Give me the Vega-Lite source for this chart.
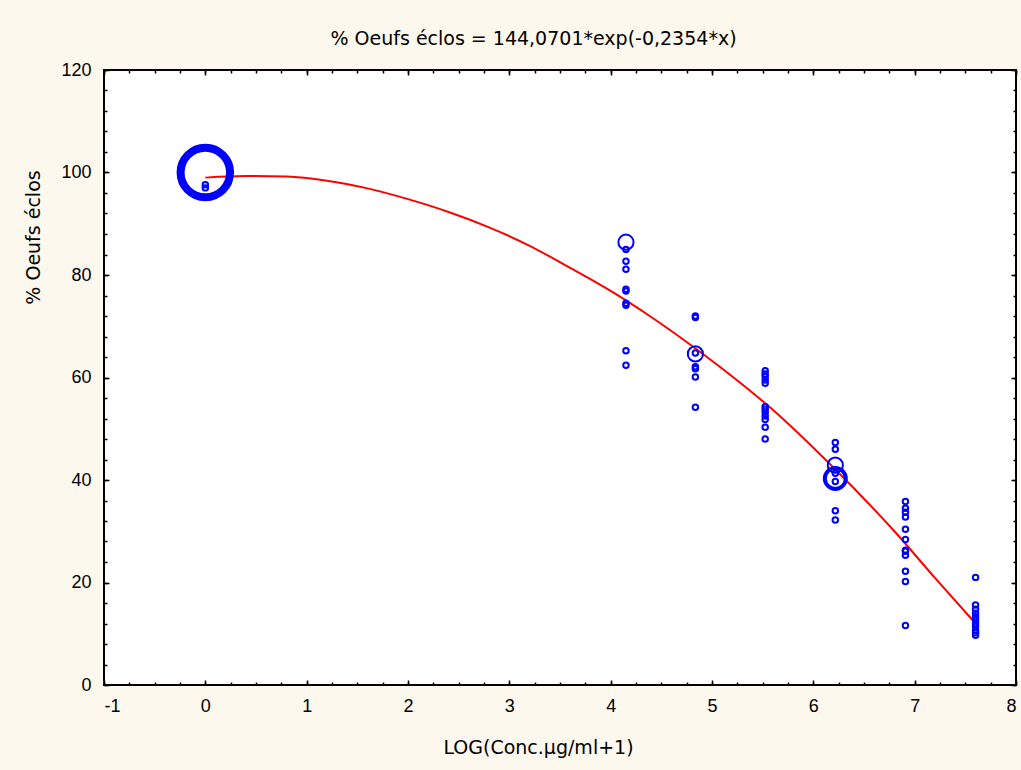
{
  "$schema": "https://vega.github.io/schema/vega-lite/v6.json",
  "width": 912,
  "height": 615,
  "autosize": {"type": "none"},
  "padding": {"left": 104, "top": 70, "right": 5, "bottom": 85},
  "background": "#FDF8EE",
  "config": {
    "view": {"stroke": "black", "strokeWidth": 2, "fill": "white"},
    "axis": {
      "labelFont": "Liberation Sans", "titleFont": "DejaVu Sans",
      "labelFontSize": 18, "titleFontSize": 19, "titleFontWeight": "normal",
      "labelColor": "black", "titleColor": "black", "tickColor": "black",
      "tickWidth": 1.5, "domain": false, "grid": false
    }
  },
  "datasets": {
    "pts": [
      {"x": 0, "y": 100, "n": 10},
      {"x": 0, "y": 97.6, "n": 1},
      {"x": 0, "y": 97.0, "n": 1},
      {"x": 4.151, "y": 86.4, "n": 2},
      {"x": 4.151, "y": 85.0, "n": 1},
      {"x": 4.151, "y": 82.7, "n": 1},
      {"x": 4.151, "y": 81.1, "n": 1},
      {"x": 4.151, "y": 77.2, "n": 1},
      {"x": 4.151, "y": 76.9, "n": 1},
      {"x": 4.151, "y": 74.5, "n": 1},
      {"x": 4.151, "y": 74.1, "n": 1},
      {"x": 4.151, "y": 65.2, "n": 1},
      {"x": 4.151, "y": 62.4, "n": 1},
      {"x": 4.836, "y": 72.0, "n": 1},
      {"x": 4.836, "y": 71.7, "n": 1},
      {"x": 4.836, "y": 64.6, "n": 2},
      {"x": 4.836, "y": 64.8, "n": 1},
      {"x": 4.836, "y": 62.1, "n": 1},
      {"x": 4.836, "y": 61.7, "n": 1},
      {"x": 4.836, "y": 60.1, "n": 1},
      {"x": 4.836, "y": 54.2, "n": 1},
      {"x": 5.525, "y": 61.3, "n": 1},
      {"x": 5.525, "y": 60.7, "n": 1},
      {"x": 5.525, "y": 60.2, "n": 1},
      {"x": 5.525, "y": 59.5, "n": 1},
      {"x": 5.525, "y": 58.9, "n": 1},
      {"x": 5.525, "y": 54.3, "n": 1},
      {"x": 5.525, "y": 53.8, "n": 1},
      {"x": 5.525, "y": 53.2, "n": 1},
      {"x": 5.525, "y": 52.5, "n": 1},
      {"x": 5.525, "y": 51.8, "n": 1},
      {"x": 5.525, "y": 50.3, "n": 1},
      {"x": 5.525, "y": 48.0, "n": 1},
      {"x": 6.217, "y": 47.3, "n": 1},
      {"x": 6.217, "y": 46.0, "n": 1},
      {"x": 6.217, "y": 42.9, "n": 2},
      {"x": 6.217, "y": 40.3, "n": 3},
      {"x": 6.217, "y": 41.3, "n": 1},
      {"x": 6.217, "y": 39.7, "n": 1},
      {"x": 6.217, "y": 34.0, "n": 1},
      {"x": 6.217, "y": 32.2, "n": 1},
      {"x": 6.909, "y": 35.8, "n": 1},
      {"x": 6.909, "y": 34.5, "n": 1},
      {"x": 6.909, "y": 33.7, "n": 1},
      {"x": 6.909, "y": 32.8, "n": 1},
      {"x": 6.909, "y": 30.4, "n": 1},
      {"x": 6.909, "y": 28.4, "n": 1},
      {"x": 6.909, "y": 26.3, "n": 1},
      {"x": 6.909, "y": 26.1, "n": 1},
      {"x": 6.909, "y": 25.3, "n": 1},
      {"x": 6.909, "y": 22.2, "n": 1},
      {"x": 6.909, "y": 20.2, "n": 1},
      {"x": 6.909, "y": 11.6, "n": 1},
      {"x": 7.601, "y": 21.0, "n": 1},
      {"x": 7.601, "y": 15.6, "n": 1},
      {"x": 7.601, "y": 14.8, "n": 1},
      {"x": 7.601, "y": 14.0, "n": 1},
      {"x": 7.601, "y": 13.3, "n": 1},
      {"x": 7.601, "y": 12.7, "n": 1},
      {"x": 7.601, "y": 12.0, "n": 1},
      {"x": 7.601, "y": 11.4, "n": 1},
      {"x": 7.601, "y": 10.7, "n": 1},
      {"x": 7.601, "y": 10.2, "n": 1},
      {"x": 7.601, "y": 9.7, "n": 1}
    ],
    "fit": [
      {"x": 0, "y": 99.0},
      {"x": 0.4, "y": 99.3},
      {"x": 0.8, "y": 99.2},
      {"x": 1.2, "y": 98.4},
      {"x": 1.6, "y": 96.9},
      {"x": 2.0, "y": 94.8},
      {"x": 2.4, "y": 92.3},
      {"x": 2.8, "y": 89.3},
      {"x": 3.2, "y": 85.7},
      {"x": 3.6, "y": 81.4},
      {"x": 4.0, "y": 76.9},
      {"x": 4.4, "y": 71.8},
      {"x": 4.8, "y": 66.2},
      {"x": 5.2, "y": 60.2},
      {"x": 5.6, "y": 53.7},
      {"x": 6.0, "y": 46.3},
      {"x": 6.4, "y": 38.4},
      {"x": 6.8, "y": 30.0},
      {"x": 7.2, "y": 20.9},
      {"x": 7.601, "y": 12.0}
    ]
  },
  "layer": [
    {
      "data": {"name": "fit"},
      "mark": {"type": "line", "color": "#FF0000", "strokeWidth": 2, "interpolate": "monotone"},
      "encoding": {
        "x": {"field": "x", "type": "quantitative",
          "scale": {"domain": [-1, 8], "nice": false, "zero": false},
          "axis": {"orient": "bottom", "values": [-1, 0, 1, 2, 3, 4, 5, 6, 7, 8], "tickSize": -5, "labelPadding": 17,
            "labelExpr": "replace(datum.label, '−', '-')",
            "title": "LOG(Conc.µg/ml+1)", "titleX": 434, "titleY": 62, "titleAlign": "center", "titleBaseline": "middle"}},
        "y": {"field": "y", "type": "quantitative",
          "scale": {"domain": [0, 120], "nice": false, "zero": false},
          "axis": {"orient": "left", "values": [0, 20, 40, 60, 80, 100, 120], "tickSize": -5, "labelPadding": 18,
            "title": "% Oeufs éclos", "titleX": -71, "titleY": 167, "titleAngle": -90, "titleAlign": "center", "titleBaseline": "middle"}}
      }
    },
    {
      "data": {"name": "pts"},
      "mark": {"type": "point", "shape": "circle", "filled": false, "color": "#0000FF", "opacity": 1},
      "encoding": {
        "x": {"field": "x", "type": "quantitative",
          "axis": {"orient": "bottom", "values": [-1, -0.75, -0.5, -0.25, 0, 0.25, 0.5, 0.75, 1, 1.25, 1.5, 1.75, 2, 2.25, 2.5, 2.75, 3, 3.25, 3.5, 3.75, 4, 4.25, 4.5, 4.75, 5, 5.25, 5.5, 5.75, 6, 6.25, 6.5, 6.75, 7, 7.25, 7.5, 7.75, 8], "tickSize": -3, "labels": false, "title": null}},
        "y": {"field": "y", "type": "quantitative",
          "axis": {"orient": "left", "values": [0, 4, 8, 12, 16, 20, 24, 28, 32, 36, 40, 44, 48, 52, 56, 60, 64, 68, 72, 76, 80, 84, 88, 92, 96, 100, 104, 108, 112, 116, 120], "tickSize": -3, "labels": false, "title": null}},
        "size": {"field": "n", "type": "quantitative", "legend": null,
          "scale": {"type": "linear", "domain": [1, 2, 3, 10], "range": [30, 230, 440, 2450]}},
        "strokeWidth": {"field": "n", "type": "quantitative", "legend": null,
          "scale": {"type": "linear", "domain": [1, 2, 3, 10], "range": [2, 2, 4, 8]}}
      }
    },
    {
      "data": {"name": "pts"},
      "mark": {"type": "point", "opacity": 0},
      "encoding": {
        "x": {"field": "x", "type": "quantitative",
          "axis": {"orient": "top", "values": [-1, 0, 1, 2, 3, 4, 5, 6, 7, 8], "tickSize": -5, "labels": false,
            "title": "% Oeufs éclos = 144,0701*exp(-0,2354*x)", "titleX": 429, "titleY": -32, "titleAlign": "center", "titleBaseline": "middle"}},
        "y": {"field": "y", "type": "quantitative",
          "axis": {"orient": "right", "values": [0, 20, 40, 60, 80, 100, 120], "tickSize": -5, "labels": false, "title": null}}
      }
    },
    {
      "data": {"name": "pts"},
      "mark": {"type": "point", "opacity": 0},
      "encoding": {
        "x": {"field": "x", "type": "quantitative",
          "axis": {"orient": "top", "values": [-1, -0.75, -0.5, -0.25, 0, 0.25, 0.5, 0.75, 1, 1.25, 1.5, 1.75, 2, 2.25, 2.5, 2.75, 3, 3.25, 3.5, 3.75, 4, 4.25, 4.5, 4.75, 5, 5.25, 5.5, 5.75, 6, 6.25, 6.5, 6.75, 7, 7.25, 7.5, 7.75, 8], "tickSize": -3, "labels": false, "title": null}},
        "y": {"field": "y", "type": "quantitative",
          "axis": {"orient": "right", "values": [0, 4, 8, 12, 16, 20, 24, 28, 32, 36, 40, 44, 48, 52, 56, 60, 64, 68, 72, 76, 80, 84, 88, 92, 96, 100, 104, 108, 112, 116, 120], "tickSize": -3, "labels": false, "title": null}}
      }
    }
  ],
  "resolve": {"axis": {"x": "independent", "y": "independent"}}
}
